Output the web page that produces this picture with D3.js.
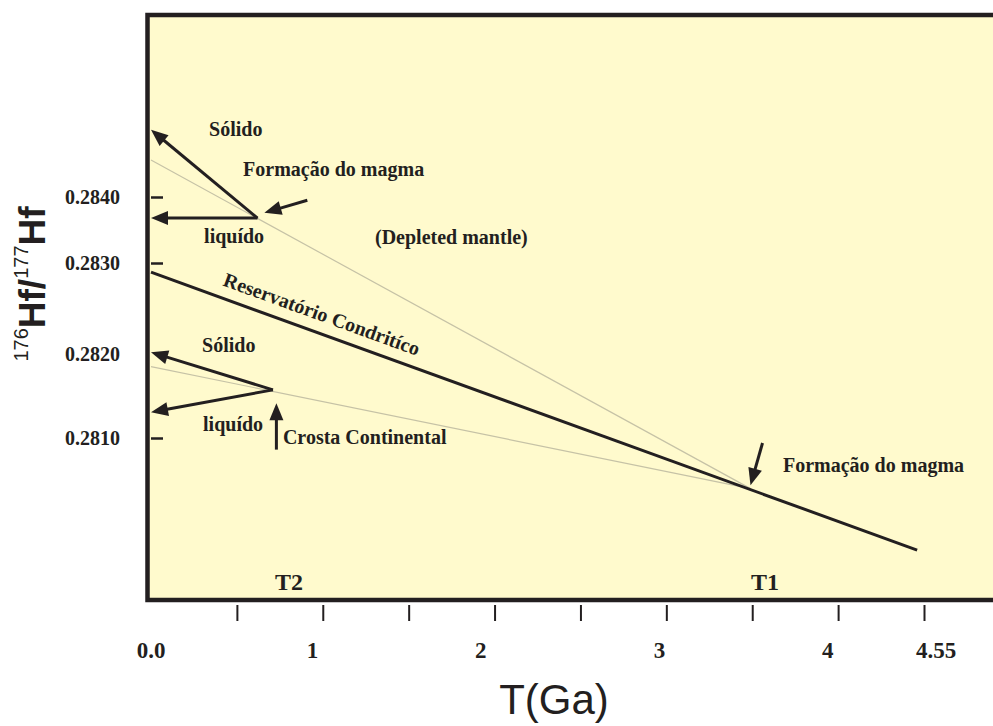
<!DOCTYPE html>
<html>
<head>
<meta charset="utf-8">
<script src="https://cdn.jsdelivr.net/npm/d3@7"></script>
<style>
  body { margin: 0; background: #fff; }
  text { fill: #231f20; }
</style>
</head>
<body>
<div id="chart-area"></div>
<script>
// axis values
var xTicks = [0.5, 1, 1.5, 2, 2.5, 3, 3.5, 4, 4.5]
var xTickLabels = ["0.0", "1", "2", "3", "4", "4.55"]
var xTickLabelAt = [0, 0.94, 1.92, 2.96, 3.94, 4.57]
var yTicks = [0.2810, 0.2820, 0.2830, 0.2840]

// evolution lines [T (Ga), 176Hf/177Hf]
var chur = [[0, 0.28290], [4.46, 0.27965]]
var depletedMantle = [[0, 0.28456], [3.49, 0.28039]]
var crust = [[0, 0.28186], [3.49, 0.28039]]

// melting points and their solid / liquid arrows
var mantleMelt = [0.62, 0.28368]
var mantleTargets = [[0, 0.28502], [0, 0.28368]]
var crustMelt = [0.71, 0.28158]
var crustTargets = [[0, 0.28203], [0, 0.28131]]

// pointer arrows [from, to]
var pointers = [
    [[0.91, 0.28395], [0.66, 0.28376]],
    [[0.73, 0.28086], [0.73, 0.28142]],
    [[3.56, 0.28094], [3.49, 0.28043]]
]

// annotations
var labelText = ["Sólido", "Formação do magma", "liquído", "(Depleted mantle)",
    "Sólido", "liquído", "Crosta Continental", "Formação do magma"]
var labelAt = [[0.338, 0.28492], [0.536, 0.28432], [0.309, 0.28330], [1.304, 0.28329],
    [0.297, 0.28203], [0.303, 0.28108], [0.768, 0.28093], [3.679, 0.28059]]
var timeMarks = ["T2", "T1"]
var timeMarkAt = [0.803, 3.574]
var timeMarkY = 0.27917

var ink = "#231f20"
var serif = "'Liberation Serif', 'Times New Roman', serif"
var sans = "'Liberation Sans', Arial, sans-serif"

var svg = d3.select("#chart-area")
    .append("svg")
        .attr("width", 993)
        .attr("height", 726)

// scales
var x = d3.scaleLinear()
    .domain([0, 4.5])
    .range([151, 924])
var y = d3.scaleLinear()
    .domain(yTicks)
    .range([438, 355, 263, 197])

// frame
svg.append("rect")
    .attr("x", 147.5)
    .attr("y", 15)
    .attr("width", 900)
    .attr("height", 585)
    .attr("fill", "#fffacd")
    .attr("stroke", ink)
    .attr("stroke-width", 4.5)

// X Axis (ticks under frame)
var xAxisCall = d3.axisBottom(x)
    .tickValues(xTicks)
    .tickSize(16)
    .tickFormat("")
var xAxis = svg.append("g")
    .attr("class", "x axis")
    .attr("transform", "translate(0,605)")
    .call(xAxisCall)
xAxis.select(".domain").remove()
xAxis.selectAll("line").attr("stroke", ink).attr("stroke-width", 2)

svg.selectAll(".xlabel")
    .data(xTickLabels)
    .enter().append("text")
        .attr("class", "xlabel")
        .attr("x", function(d, i){ return x(xTickLabelAt[i]) })
        .attr("y", 658)
        .attr("text-anchor", "middle")
        .attr("font-family", serif)
        .attr("font-weight", "bold")
        .attr("font-size", "23px")
        .text(function(d){ return d })

// X Label
svg.append("text")
    .attr("x", 554)
    .attr("y", 714)
    .attr("text-anchor", "middle")
    .attr("font-family", sans)
    .attr("font-size", "42px")
    .text("T(Ga)")

// Y Axis (ticks inside frame, labels outside)
var yAxisCall = d3.axisLeft(y)
    .tickValues([0.2810, 0.2830, 0.2840])
    .tickSize(-12)
    .tickPadding(31)
    .tickFormat(d3.format(".4f"))
var yAxis = svg.append("g")
    .attr("class", "y axis")
    .attr("transform", "translate(151,0)")
    .call(yAxisCall)
yAxis.select(".domain").remove()
yAxis.selectAll("line").attr("stroke", ink).attr("stroke-width", 2.5)
yAxis.selectAll("text")
    .attr("font-family", serif)
    .attr("font-weight", "bold")
    .attr("font-size", "20px")
    .attr("fill", ink)
// 0.2820 label (its tick is covered by the arrow)
svg.append("text")
    .attr("x", 120)
    .attr("y", y(0.2820))
    .attr("dy", "0.32em")
    .attr("text-anchor", "end")
    .attr("font-family", serif)
    .attr("font-weight", "bold")
    .attr("font-size", "20px")
    .text(d3.format(".4f")(0.2820))

// Y Label
var yTitle = svg.append("text")
    .attr("transform", "translate(45,284) rotate(-90)")
    .attr("text-anchor", "middle")
    .attr("font-family", sans)
    .attr("font-weight", "bold")
    .attr("font-size", "37px")
yTitle.append("tspan").attr("font-size", "20px").attr("font-weight", "normal").attr("dy", -17).text("176")
yTitle.append("tspan").attr("dy", 17).text("Hf/")
yTitle.append("tspan").attr("font-size", "20px").attr("font-weight", "normal").attr("dy", -17).text("177")
yTitle.append("tspan").attr("dy", 17).text("Hf")

// lines
var line = d3.line()
    .x(function(d){ return x(d[0]) })
    .y(function(d){ return y(d[1]) })

svg.selectAll(".grey")
    .data([depletedMantle, crust])
    .enter().append("path")
        .attr("class", "grey")
        .attr("d", line)
        .attr("fill", "none")
        .attr("stroke", "#c6c2a6")
        .attr("stroke-width", 1.2)

svg.append("path")
    .attr("d", line(chur))
    .attr("fill", "none")
    .attr("stroke", ink)
    .attr("stroke-width", 3)

// arrows
function arrow(from, to) {
    var x1 = x(from[0]), y1 = y(from[1]), x2 = x(to[0]), y2 = y(to[1])
    var a = Math.atan2(y2 - y1, x2 - x1)
    var len = 17, half = 7
    var bx = x2 - len * Math.cos(a), by = y2 - len * Math.sin(a)
    svg.append("line")
        .attr("x1", x1).attr("y1", y1)
        .attr("x2", bx + 2 * Math.cos(a)).attr("y2", by + 2 * Math.sin(a))
        .attr("stroke", ink)
        .attr("stroke-width", 3)
    svg.append("path")
        .attr("d", "M" + x2 + "," + y2 +
            "L" + (bx - half * Math.sin(a)) + "," + (by + half * Math.cos(a)) +
            "L" + (bx + half * Math.sin(a)) + "," + (by - half * Math.cos(a)) + "Z")
        .attr("fill", ink)
}

mantleTargets.forEach(function(t){ arrow(mantleMelt, t) })
crustTargets.forEach(function(t){ arrow(crustMelt, t) })
pointers.forEach(function(p){ arrow(p[0], p[1]) })

// annotations
svg.selectAll(".note")
    .data(labelText)
    .enter().append("text")
        .attr("class", "note")
        .attr("x", function(d, i){ return x(labelAt[i][0]) })
        .attr("y", function(d, i){ return y(labelAt[i][1]) })
        .attr("font-family", serif)
        .attr("font-weight", "bold")
        .attr("font-size", "20px")
        .text(function(d){ return d })

svg.selectAll(".tmark")
    .data(timeMarks)
    .enter().append("text")
        .attr("class", "tmark")
        .attr("x", function(d, i){ return x(timeMarkAt[i]) })
        .attr("y", y(timeMarkY))
        .attr("text-anchor", "middle")
        .attr("font-family", serif)
        .attr("font-weight", "bold")
        .attr("font-size", "24px")
        .text(function(d){ return d })

// label along the chondritic line
var cx = x(0.39), cy = y(chur[0][1]) + (x(0.39) - x(0)) * (y(chur[1][1]) - y(chur[0][1])) / (x(chur[1][0]) - x(0))
var angle = Math.atan2(y(chur[1][1]) - y(chur[0][1]), x(chur[1][0]) - x(chur[0][0])) * 180 / Math.PI
svg.append("text")
    .attr("transform", "translate(" + cx + "," + cy + ") rotate(" + angle + ")")
    .attr("dy", -12)
    .attr("font-family", serif)
    .attr("font-weight", "bold")
    .attr("font-size", "20px")
    .text("Reservatório Condritíco")
</script>
</body>
</html>
